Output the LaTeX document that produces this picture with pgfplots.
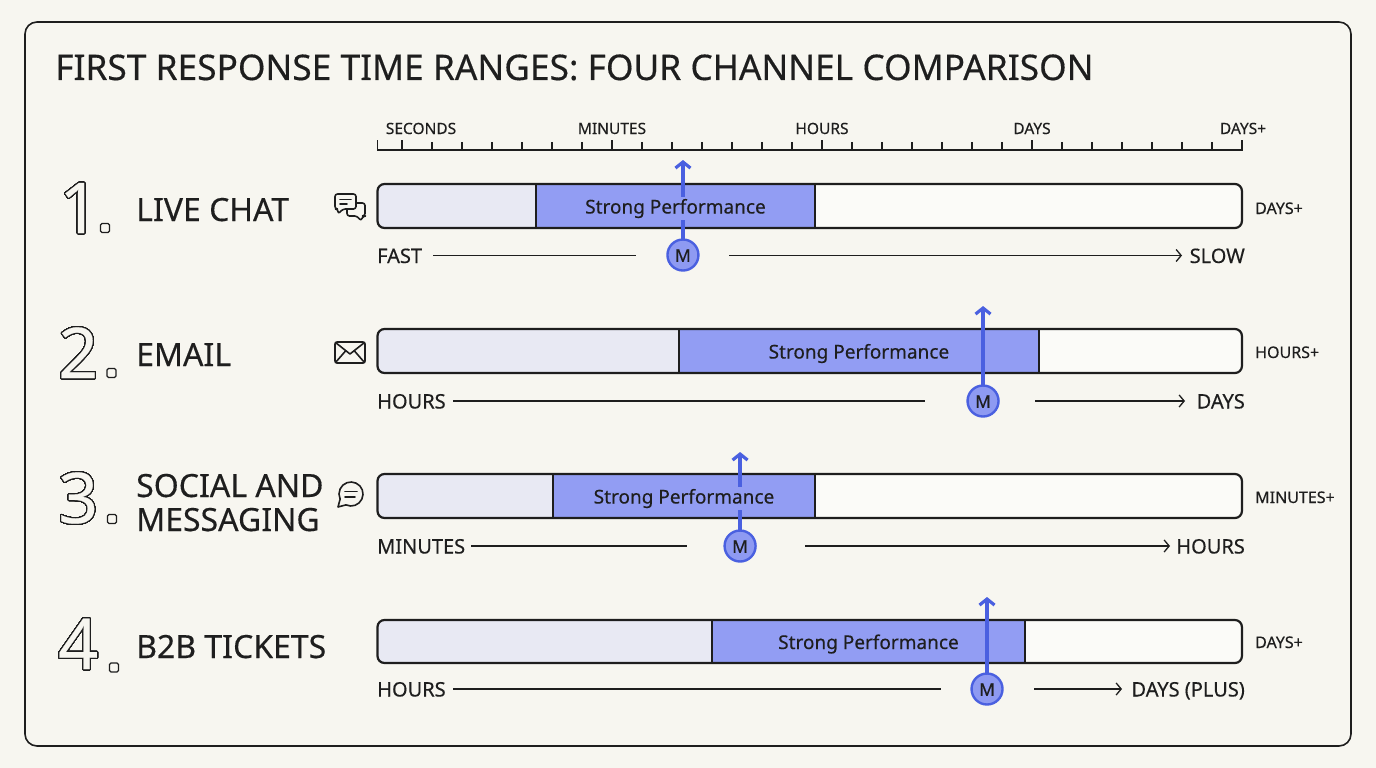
\documentclass[border=0pt]{standalone}
\usepackage{pgfplots}
\pgfplotsset{compat=1.18}
\usetikzlibrary{arrows.meta}
\usepackage{fontspec}
\setmainfont{Noto Sans}[FakeBold=0.35]
\usepackage{contour}

\definecolor{bg}{HTML}{F7F6F0}
\definecolor{ink}{HTML}{1E1E1E}
\definecolor{lightc}{HTML}{E8E9F3}
\definecolor{strong}{HTML}{929DF3}
\definecolor{restc}{HTML}{FBFBF8}
\definecolor{bluel}{HTML}{4A60E0}
\definecolor{markc}{HTML}{8E9AF2}

\newcommand\fs[1]{\fontsize{#1}{#1}\selectfont}
\newcommand\bignum[1]{\fs{70}\contourlength{1.1pt}\contour[100]{ink}{\textcolor{bg}{#1}}}

% one channel: #1 bar top, #2 bar bottom, #3 strong from, #4 strong to,
% #5 median, #6 arrow tip, #7 marker row
\newcommand\channel[7]{%
  \addplot[fill=lightc, draw=none, rounded corners=7pt]
    coordinates {(-0.1167,#1) (#3+0.1,#1) (#3+0.1,#2) (-0.1167,#2)} -- cycle;
  \addplot[fill=restc, draw=none, rounded corners=7pt]
    coordinates {(#4-0.1,#1) (4,#1) (4,#2) (#4-0.1,#2)} -- cycle;
  \addplot[fill=strong, draw=ink, line width=2pt]
    coordinates {(#3,#1) (#4,#1) (#4,#2) (#3,#2)} -- cycle;
  \addplot[draw=ink, line width=2.2pt, rounded corners=7pt]
    coordinates {(-0.1167,#1) (4,#1) (4,#2) (-0.1167,#2)} -- cycle;
  \addplot[draw=bluel, line width=3.2pt, -{Straight Barb[length=6pt,width=15pt]}]
    coordinates {(#5,#7) (#5,#6)};
  \addplot[draw=none, nodes near coords={Strong Performance},
    every node near coord/.style={anchor=base, fill=strong, inner sep=1.5pt,
      text=ink, font=\fs{19}}]
    coordinates {({(#3+#4)/2},{(#1+#2)/2+7.5})};
  \addplot[only marks, mark=*, mark size=15.5pt,
    mark options={fill=markc, draw=bluel, line width=2.4pt},
    nodes near coords={M},
    every node near coord/.style={anchor=center, yshift=-0.5pt, text=ink, font=\fs{17.5}}]
    coordinates {(#5,#7)};
}

\begin{document}
\begin{tikzpicture}[x=1pt, y=-1pt]
\fill[bg] (0,0) rectangle (1376,768);
\draw[ink, line width=1.6pt, rounded corners=12pt] (25,22) rectangle (1351,746);

\begin{axis}[
    at={(0,0)}, anchor=north west,
    width=1376pt, height=768pt, scale only axis,
    xmin=-1.91429, xmax=4.638095,
    ymin=0, ymax=768, y dir=reverse,
    hide axis, clip=false,
]
% x in scale units: 1 = minutes, 2 = hours, 3 = days, 4 = days+
\channel{184}{228}{0.638}{1.967}{1.338}{160}{255}
\channel{329}{373}{1.319}{3.033}{2.767}{306}{401}
\channel{474}{518}{0.719}{1.967}{1.610}{452}{546}
\channel{620}{663}{1.476}{2.967}{2.786}{597}{689}
\end{axis}

% title
\node[anchor=base west, inner sep=0, text=ink, font=\fs{35.3}] at (55,80)
  {FIRST RESPONSE TIME RANGES: FOUR CHANNEL COMPARISON};

% time ruler
\draw[ink, line width=1.3pt] (377.5,150) -- (1242.5,150);
\draw[ink, line width=1.3pt] (377.5,150.6) -- ++(0,-10.6);
\foreach \k in {0,...,28} {
  \pgfmathsetmacro\h{ifthenelse(mod(\k,7)==0,10,8)}
  \draw[ink, line width=1.3pt] (402+30*\k,150) -- ++(0,-\h);
}
\begin{scope}[every node/.style={anchor=base, inner sep=0, text=ink, font=\fs{15.5}}]
\node at (421,134) {SECONDS};
\node at (612,134) {MINUTES};
\node at (822,134) {HOURS};
\node at (1032,134) {DAYS};
\node at (1243,134) {DAYS+};
\end{scope}

% channel names
\begin{scope}[every node/.style={anchor=base west, inner sep=0, text=ink}]
\node at (59,233) {\bignum{1}};
\node at (58,378) {\bignum{2}};
\node at (58,523) {\bignum{3}};
\node at (58,669) {\bignum{4}};
\node[font=\fs{32}] at (136,221) {LIVE CHAT};
\node[font=\fs{32}] at (136,366) {EMAIL};
\node[font=\fs{32}] at (136,497) {SOCIAL AND};
\node[font=\fs{32}] at (136,531) {MESSAGING};
\node[font=\fs{32}] at (136,658) {B2B TICKETS};
\end{scope}
\begin{scope}[ink, line width=1.3pt, rounded corners=1.5pt]
\draw (100.5,223.5) rectangle (109.5,232.5);
\draw (107,368.5) rectangle (116,377.5);
\draw (107.5,514.5) rectangle (116.5,523.5);
\draw (109.5,663) rectangle (118.5,672);
\end{scope}

% icons
\begin{scope}[ink, line width=1.6pt, line join=round, line cap=round]
\draw[fill=bg, rounded corners=2.5pt] (347,203) -- (365,203) -- (365,216) -- (363,216) -- (361,221) -- (357,216) -- (347,216) -- cycle;
\draw[fill=bg, rounded corners=2.5pt] (335,194) -- (356,194) -- (356,209) -- (343,209) -- (338,214) -- (338,209) -- (335,209) -- cycle;
\draw (340,199.5) -- (351,199.5);
\draw (340,204) -- (347,204);
\draw[rounded corners=2pt] (335,342) rectangle (365,363);
\draw (335.5,342.5) -- (350,354) -- (364.5,342.5);
\draw (335.5,362.5) -- (345.5,351);
\draw (364.5,362.5) -- (354.5,351);
\draw (351,494) ++(245:12pt) arc[start angle=245, end angle=565, radius=12pt] -- (338,507) -- cycle;
\draw (345,491.5) -- (357,491.5);
\draw (345,497) -- (355,497);
\end{scope}

% fast/slow guides
\begin{scope}[ink, line width=1.3pt]
\tikzset{tip/.style={-{Straight Barb[length=5pt,width=12pt]}}}
\draw (433,255.5) -- (636,255.5);   \draw[tip] (729,255.5) -- (1182,255.5);
\draw (453,401) -- (925,401);       \draw[tip] (1035,401) -- (1185,401);
\draw (471,546) -- (687,546);       \draw[tip] (805,546) -- (1170,546);
\draw (453,689) -- (941,689);       \draw[tip] (1034,689) -- (1122,689);
\end{scope}
\begin{scope}[every node/.style={inner sep=0, text=ink, font=\fs{20}}]
\node[anchor=base west] at (377,263) {FAST};
\node[anchor=base east] at (1245,263) {SLOW};
\node[anchor=base west] at (377,408.5) {HOURS};
\node[anchor=base east] at (1245,408.5) {DAYS};
\node[anchor=base west] at (377,553.5) {MINUTES};
\node[anchor=base east] at (1245,553.5) {HOURS};
\node[anchor=base west] at (377,696.5) {HOURS};
\node[anchor=base east] at (1245,696.5) {DAYS (PLUS)};
\end{scope}
\begin{scope}[every node/.style={anchor=base west, inner sep=0, text=ink, font=\fs{16}}]
\node at (1255,214) {DAYS+};
\node at (1255,358) {HOURS+};
\node at (1255,503) {MINUTES+};
\node at (1255,648) {DAYS+};
\end{scope}
\end{tikzpicture}
\end{document}
